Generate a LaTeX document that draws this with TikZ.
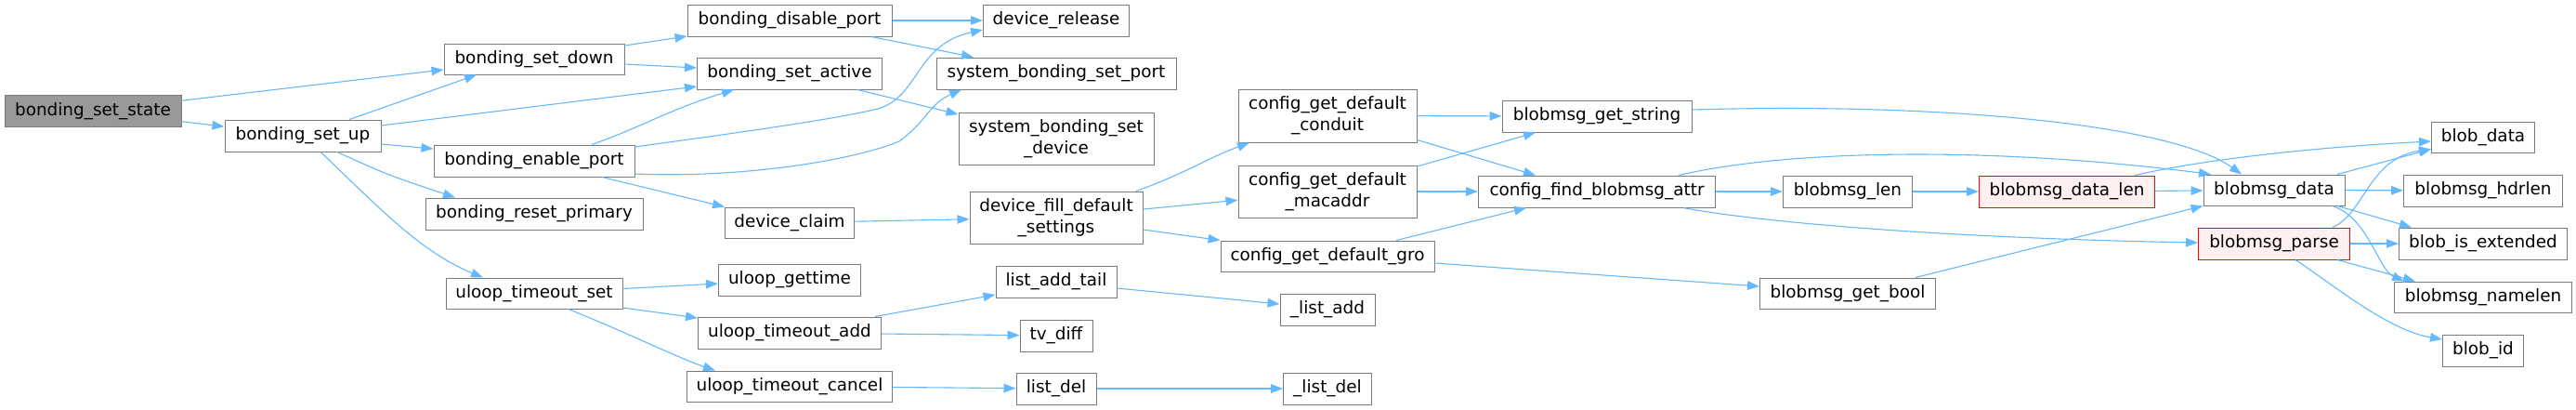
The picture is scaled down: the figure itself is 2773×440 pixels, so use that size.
\documentclass[tikz,border=0pt]{standalone}
\usepackage{fontspec}
\setmainfont{DejaVu Sans}
\usetikzlibrary{arrows.meta}
\definecolor{edgeblue}{HTML}{63B8FF}
\definecolor{boxgray}{HTML}{7A7A7A}
\definecolor{rootfill}{HTML}{999999}
\definecolor{redfill}{HTML}{FFF0F0}
\begin{document}
\begin{tikzpicture}[x=1pt,y=-1pt,
  fn/.style={draw=boxgray, fill=white, line width=1pt, inner sep=0pt,
    minimum height=34pt, align=center, text=black,
    font=\fontsize{18.4}{23}\selectfont},
  root/.style={fn, fill=rootfill},
  redfn/.style={fn, draw=red, fill=redfill},
  conn/.style={draw=edgeblue, line width=1.1pt, -{Triangle[length=13pt,width=9.5pt]}}]
\useasboundingbox (0,0) rectangle (2773,440);
% column 1-3
\node[root, minimum width=190pt] (state) at (100,119.5) {bonding\_set\_state};
\node[fn, minimum width=168pt] (setup) at (326,146) {bonding\_set\_up};
\node[fn, minimum width=194pt, minimum height=33pt] (setdown) at (575,63.5) {bonding\_set\_down};
\node[fn, minimum width=216pt] (enable) at (575,173) {bonding\_enable\_port};
\node[fn, minimum width=234pt] (reset) at (575,230) {bonding\_reset\_primary};
\node[fn, minimum width=190pt, minimum height=33pt] (uset) at (575,315.5) {uloop\_timeout\_set};
% column 4
\node[fn, minimum width=220pt] (disable) at (850,22) {bonding\_disable\_port};
\node[fn, minimum width=199pt] (active) at (850,79) {bonding\_set\_active};
\node[fn, minimum width=139pt, minimum height=33pt] (claim) at (850,239.5) {device\_claim};
\node[fn, minimum width=153pt] (gettime) at (850,301) {uloop\_gettime};
\node[fn, minimum width=197pt] (uadd) at (850,358) {uloop\_timeout\_add};
\node[fn, minimum width=221pt, minimum height=33pt] (ucancel) at (850,415.5) {uloop\_timeout\_cancel};
% column 5
\node[fn, minimum width=157pt] (release) at (1137,22) {device\_release};
\node[fn, minimum width=258pt] (sbsport) at (1137,79) {system\_bonding\_set\_port};
\node[fn, minimum width=210pt, minimum height=56pt] (sbsdev) at (1137,149) {system\_bonding\_set\\\_device};
\node[fn, minimum width=186pt, minimum height=56pt] (fill) at (1137,234) {device\_fill\_default\\\_settings};
\node[fn, minimum width=130pt] (addtail) at (1137,303) {list\_add\_tail};
\node[fn, minimum width=78pt] (tvdiff) at (1137,361) {tv\_diff};
\node[fn, minimum width=86pt] (listdel) at (1137,418) {list\_del};
% column 6
\node[fn, minimum width=192pt, minimum height=57pt] (conduit) at (1429,124.5) {config\_get\_default\\\_conduit};
\node[fn, minimum width=192pt, minimum height=56pt] (macaddr) at (1429,206) {config\_get\_default\\\_macaddr};
\node[fn, minimum width=230pt, minimum height=33pt] (gro) at (1429,275.5) {config\_get\_default\_gro};
\node[fn, minimum width=102pt] (uladd) at (1429,333) {\_list\_add};
\node[fn, minimum width=95pt] (uldel) at (1429,418) {\_list\_del};
% column 7
\node[fn, minimum width=204pt] (getstring) at (1719,125) {blobmsg\_get\_string};
\node[fn, minimum width=255pt] (findattr) at (1719,206) {config\_find\_blobmsg\_attr};
% column 8
\node[fn, minimum width=139pt] (blen) at (1989,206) {blobmsg\_len};
\node[fn, minimum width=189pt, minimum height=33pt] (getbool) at (1989,315.5) {blobmsg\_get\_bool};
% column 9
\node[redfn, minimum width=189pt] (datalen) at (2225,206) {blobmsg\_data\_len};
% column 10
\node[fn, minimum width=152pt, minimum height=33pt] (bdata) at (2448,204.5) {blobmsg\_data};
\node[redfn, minimum width=163pt] (parse) at (2448,262) {blobmsg\_parse};
% column 11
\node[fn, minimum width=111pt, minimum height=33pt] (blobdata) at (2673,147.5) {blob\_data};
\node[fn, minimum width=171pt] (hdrlen) at (2673,205) {blobmsg\_hdrlen};
\node[fn, minimum width=181pt] (isext) at (2673,262) {blob\_is\_extended};
\node[fn, minimum width=191pt, minimum height=33pt] (namelen) at (2673,319.5) {blobmsg\_namelen};
\node[fn, minimum width=87pt] (blobid) at (2673,377) {blob\_id};

% edges
\draw[conn] (state) -- (setdown);
\draw[conn] (state) -- (setup);
\draw[conn] ([xshift=50pt]setup.north) -- ([xshift=-62pt]setdown.south);
\draw[conn] ([yshift=11pt]setup.east) -- ([yshift=-14pt]active.west);
\draw[conn] ([yshift=-9pt]setup.east) -- ([yshift=13pt]enable.west);
\draw[conn] ([xshift=37pt]setup.south) .. controls (417,188) .. ([xshift=-85pt]reset.north);
\draw[conn] ([xshift=19pt]setup.south) .. controls (400,215) and (450,270) .. ([xshift=-55pt]uset.north);
\draw[conn] ([yshift=14.5pt]setdown.east) -- ([yshift=-17pt]disable.west);
\draw[conn] ([yshift=-5.5pt]setdown.east) -- ([yshift=6pt]active.west);
\draw[conn] (disable) -- (release);
\draw[conn] ([xshift=88pt]disable.south) -- ([xshift=-89pt]sbsport.north);
\draw[conn] ([xshift=62pt]enable.north) .. controls (690,137) and (720,118) .. ([xshift=-60pt]active.south);
\draw[conn] ([yshift=15pt]enable.east) .. controls (800,142) and (900,128) .. (945,117)
   .. controls (990,104) and (985,48) .. ([yshift=-10pt]release.west);
\draw[conn] ([yshift=-14pt]enable.east) .. controls (800,192) and (920,172) .. (968,152)
   .. controls (998,130) and (1000,112) .. ([xshift=-102pt]sbsport.south);
\draw[conn] ([xshift=73pt]enable.south) -- ([xshift=-70pt]claim.north);
\draw[conn] ([xshift=73pt]active.south) -- ([yshift=26pt]sbsdev.west);
\draw[conn] (claim) -- (fill);
\draw[conn] ([xshift=86pt]fill.north) .. controls (1275,187) and (1300,170) .. ([xshift=-84pt]conduit.south);
\draw[conn] (fill) -- (macaddr);
\draw[conn] ([yshift=-13pt]fill.east) -- ([yshift=17pt]gro.west);
\draw[conn] (uset) -- (gettime);
\draw[conn] ([yshift=-15.5pt]uset.east) -- ([yshift=16pt]uadd.west);
\draw[conn] ([xshift=37pt]uset.south) .. controls (680,360) and (730,385) .. ([xshift=-80pt]ucancel.north);
\draw[conn] ([xshift=92pt]uadd.north) -- ([yshift=-14pt]addtail.west);
\draw[conn] (uadd) -- (tvdiff);
\draw[conn] (ucancel) -- (listdel);
\draw[conn] ([yshift=-7pt]addtail.east) -- ([yshift=6pt]uladd.west);
\draw[conn] (listdel) -- (uldel);
\draw[conn] (conduit) -- (getstring);
\draw[conn] ([yshift=-26pt]conduit.east) -- ([xshift=-66pt]findattr.north);
\draw[conn] ([yshift=27pt]macaddr.east) -- ([xshift=-66pt]getstring.south);
\draw[conn] (macaddr) -- (findattr);
\draw[conn] ([xshift=74pt]gro.north) -- ([xshift=-76pt]findattr.south);
\draw[conn] ([yshift=-7.5pt]gro.east) -- ([yshift=7.5pt]getbool.west);
\draw[conn] ([yshift=7pt]getstring.east) .. controls (2100,110) and (2340,135) .. ([xshift=-35pt]bdata.north);
\draw[conn] ([xshift=88pt]findattr.north) .. controls (1930,160) and (2150,158) .. ([xshift=-68pt]bdata.north);
\draw[conn] (findattr) -- (blen);
\draw[conn] ([xshift=93pt]findattr.south) .. controls (1900,240) and (2100,256) .. ([yshift=1pt]parse.west);
\draw[conn] (blen) -- (datalen);
\draw[conn] (datalen) -- (bdata);
\draw[conn] ([xshift=73pt]datalen.north) .. controls (2380,170) and (2500,158) .. ([yshift=-4.5pt]blobdata.west);
\draw[conn] ([xshift=73pt]getbool.north) -- (bdata.south west);
\draw[conn] ([xshift=68pt]bdata.north) -- ([yshift=-13pt]blobdata.west);
\draw[conn] (bdata) -- (hdrlen);
\draw[conn] ([xshift=68pt]bdata.south) -- ([xshift=-77pt]isext.north);
\draw[conn] ([xshift=63pt]bdata.south) .. controls (2550,235) and (2560,290) .. ([xshift=-85pt]namelen.north);
\draw[conn] ([xshift=63pt]parse.north) .. controls (2545,230) and (2550,170) .. ([yshift=-13pt]blobdata.west);
\draw[conn] (parse) -- (isext);
\draw[conn] ([xshift=68pt]parse.south) -- ([xshift=-73pt]namelen.north);
\draw[conn] ([xshift=23pt]parse.south) .. controls (2510,305) and (2570,355) .. ([yshift=12pt]blobid.west);
\end{tikzpicture}
\end{document}
